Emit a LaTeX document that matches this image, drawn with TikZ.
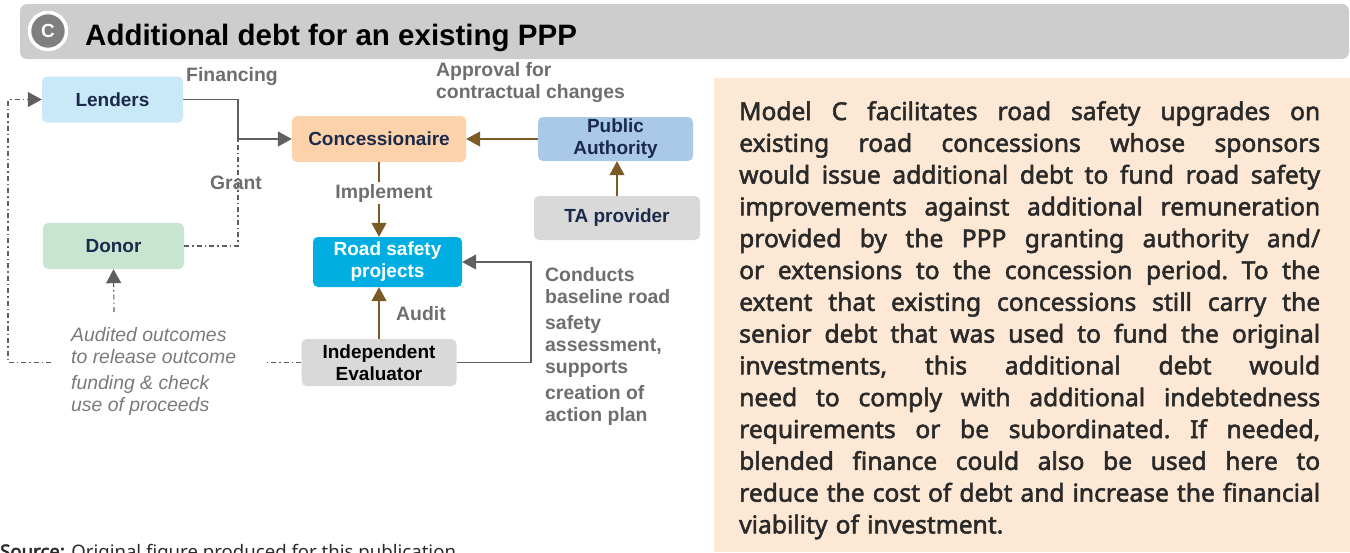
\documentclass[tikz,border=0pt]{standalone}
\usepackage{fontspec}
\setmainfont{Liberation Sans}
\newfontfamily\noto{Noto Sans}[FakeBold=2.2]
\newfontfamily\notoplain{Noto Sans}
\newfontfamily\notobold{Noto Sans}[FakeBold=2.6]
\usetikzlibrary{arrows.meta}
\definecolor{hdrgray}{HTML}{CDCDCD}
\definecolor{cgray}{HTML}{7F7F7F}
\definecolor{lendc}{HTML}{C9E8F8}
\definecolor{concc}{HTML}{FBD2AA}
\definecolor{pac}{HTML}{AAC8E8}
\definecolor{tac}{HTML}{D9D9D9}
\definecolor{donc}{HTML}{C7E5D0}
\definecolor{rspc}{HTML}{00AEE2}
\definecolor{navy}{HTML}{1B2A4A}
\definecolor{lblgray}{HTML}{6E6E6E}
\definecolor{itgray}{HTML}{7A7A7A}
\definecolor{brownc}{HTML}{7B5A26}
\definecolor{lgray}{HTML}{5F5F5F}
\definecolor{peach}{HTML}{FDE8D5}
\definecolor{ptext}{HTML}{2A2A2A}
\tikzset{
  box/.style={rounded corners=5pt, align=center, inner sep=0pt, text=navy,
    font=\fontsize{19}{22}\selectfont\bfseries},
  lbl/.style={inner sep=0pt, align=left, text=lblgray,
    font=\fontsize{19.4}{22}\selectfont\bfseries},
  garrow/.style={draw=lgray, line width=1.3pt, -{Triangle[length=14pt,width=15pt]}, color=lgray},
  barrow/.style={draw=brownc, line width=1.3pt, -{Triangle[length=14pt,width=15pt]}, color=brownc},
  dd/.style={draw=lgray, line width=1.1pt, dash pattern=on 5pt off 3pt on 1.5pt off 3pt}
}
\newcommand{\pline}[1]{\hbox to 581pt{\frenchspacing\spaceskip=0pt\xspaceskip=0pt #1}}
\begin{document}
\begin{tikzpicture}[x=1pt,y=-1pt]
\useasboundingbox (0,0) rectangle (1350,552);
% header
\fill[hdrgray, rounded corners=7pt] (20,4) rectangle (1349,59);
\node[circle, fill=cgray, draw=white, line width=3.5pt, minimum size=37pt, inner sep=0pt,
  text=white, font=\fontsize{19}{19}\selectfont\bfseries] (cc) at (48,31) {C};
\node[anchor=base west, inner sep=0pt, font=\fontsize{29.5}{29.5}\selectfont\bfseries] (title) at (85,45) {Additional debt for an existing PPP};
% right panel
\fill[peach] (714,78) rectangle (1350,552);
\node[anchor=north west, inner sep=0pt, text=ptext, font=\noto\fontsize{24.6}{31.8}\selectfont, align=left, text width=581pt] (ptxt) at (739,101) {%
\pline{Model C facilitates road safety upgrades on}
\pline{existing road concessions whose sponsors}
\pline{would issue additional debt to fund road safety}
\pline{improvements against additional remuneration}
\pline{provided by the PPP granting authority and/}
\pline{or extensions to the concession period. To the}
\pline{extent that existing concessions still carry the}
\pline{senior debt that was used to fund the original}
\pline{investments, this additional debt would}
\pline{need to comply with additional indebtedness}
\pline{requirements or be subordinated. If needed,}
\pline{blended finance could also be used here to}
\pline{reduce the cost of debt and increase the financial}
\hbox{viability of investment.}};
% nodes
\node[box, fill=lendc, minimum width=141pt, minimum height=46pt] (len) at (112.5,99.5) {Lenders};
\node[box, fill=concc, minimum width=174pt, minimum height=46pt] (conc) at (379,139) {Concessionaire};
\node[box, fill=pac, minimum width=155pt, minimum height=44pt] (pa) at (615.5,139) {Public\\Authority};
\node[box, fill=tac, minimum width=166pt, minimum height=44pt] (ta) at (617,218) {TA provider};
\node[box, fill=donc, minimum width=141pt, minimum height=46pt] (don) at (113.5,246) {Donor};
\node[box, fill=rspc, minimum width=149pt, minimum height=50pt, text=white] (rsp) at (387.5,262) {Road safety\\projects};
\node[box, fill=tac, minimum width=155pt, minimum height=47pt, text=black] (ie) at (379,362.5) {Independent\\Evaluator};
% coordinates
\coordinate (gj) at (238,139);
\coordinate (cr) at (531,262);
\coordinate (ddl) at (265,362.5);
\coordinate (lb) at (51,362.5);
\coordinate (lc) at (8,362.5);
\coordinate (da) at (114,312);
% connectors
\draw[garrow] (len.east) -| (gj) -- (conc.west);
\draw[dd] (don.east) -| (gj);
\draw[barrow] (pa.west) -- (conc.east);
\draw[barrow] (ta.north) -- (ta.north |- pa.south);
\draw[barrow] (conc.south) -- (conc.south |- rsp.north);
\draw[barrow] (ie.north) -- (ie.north |- rsp.south);
\draw[garrow] (ie.east) -| (cr) -- (rsp.east);
\draw[dd] (ie.west) -- (ddl);
\draw[dd, -{Triangle[length=14pt,width=15pt]}, color=lgray] (lb) -- (lc) |- (len.west);
\draw[dd, -{Triangle[length=14pt,width=15pt]}, color=lgray] (da) -- (don.south);
% labels
\node[lbl] (lfin) at (232,77) {Financing};
\node[lbl, anchor=west] (lapp) at (436,83) {Approval for\\contractual changes};
\node[lbl] (lgr) at (236,183) {Grant};
\node[lbl, fill=white, inner sep=2pt] (limp) at (384,193) {Implement};
\node[lbl, anchor=west] (laud) at (396,314) {Audit};
\node[lbl, anchor=north west] (lcon) at (545,267) {Conducts\\baseline road\\[4pt]safety\\assessment,\\supports\\[4pt]creation of\\action plan};
\node[anchor=north west, inner sep=0pt, align=left, text=itgray, font=\fontsize{19.4}{22}\selectfont\itshape] (laudt) at (71,327) {Audited outcomes\\to release outcome\\[4pt]funding \& check\\use of proceeds};
% source
\node[anchor=base west, inner sep=0pt, text=ptext, font=\notoplain\fontsize{18.6}{18.6}\selectfont] (src) at (0,558) {{\notobold Source:} Original figure produced for this publication};
\end{tikzpicture}
\end{document}
